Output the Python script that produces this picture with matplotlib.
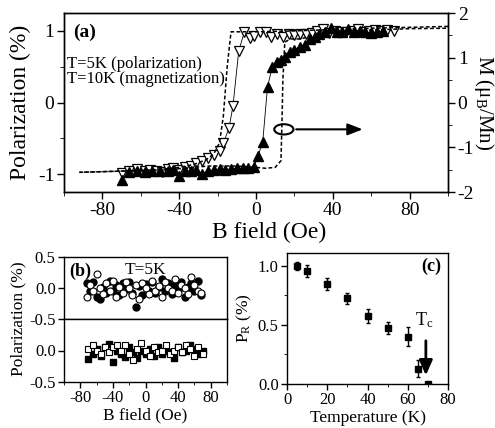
import matplotlib
matplotlib.use("Agg")
import matplotlib.pyplot as plt
from matplotlib.patches import Ellipse
from matplotlib.ticker import MultipleLocator

plt.rcParams['font.family'] = ['Liberation Serif', 'DejaVu Serif']
plt.rcParams['mathtext.fontset'] = 'custom'
plt.rcParams['mathtext.rm'] = 'Liberation Serif'
plt.rcParams['mathtext.it'] = 'Liberation Serif:italic'
plt.rcParams['axes.unicode_minus'] = False
plt.rcParams['axes.linewidth'] = 1.0
plt.rcParams['xtick.major.width'] = 1.0
plt.rcParams['ytick.major.width'] = 1.0

# ---- panel (a): hysteresis ----
pol5_field = [-70, -66, -62, -58, -55, -52, -49, -46, -43, -40, -37, -34, -31, -28,
              -25, -22, -19, -17, -14, -12, -9, -6, -3, -1, 2, 5, 8, 11, 14, 17, 20,
              23, 26, 29, 32, 35, 38, 41, 44, 47, 50, 53, 56, 59, 62, 65, 68, 72]
pol5_val = [-0.98, -0.96, -0.93, -0.95, -0.94, -0.96, -0.97, -0.93, -0.92, -0.94, -0.90,
            -0.88, -0.85, -0.82, -0.78, -0.74, -0.68, -0.57, -0.35, -0.05, 0.72, 0.99,
            0.90, 0.93, 0.99, 0.98, 0.92, 0.95, 0.92, 0.96, 0.94, 0.95, 0.96, 0.97,
            1.00, 1.03, 0.97, 1.00, 0.98, 0.99, 1.00, 1.02, 0.98, 1.00, 1.01, 1.00,
            1.01, 1.00]

pol10_field = [-70, -66, -62, -58, -54, -50, -46, -43, -40, -37, -34, -31, -28, -25,
               -22, -19, -16, -13, -10, -7, -4, -1, 1, 3.5, 6, 8.5, 11, 13, 15, 17.5,
               20, 23, 25.5, 28, 30.5, 33, 36, 39, 42, 45, 48, 51, 54, 57, 60, 63, 66]
pol10_val = [-1.08, -0.97, -0.96, -0.97, -0.95, -0.96, -0.95, -0.94, -1.03, -0.96,
             -0.95, -0.94, -1.00, -0.95, -0.94, -0.93, -0.94, -0.93, -0.92, -0.92,
             -0.91, -0.90, -0.75, -0.55, 0.22, 0.50, 0.57, 0.60, 0.64, 0.71, 0.74,
             0.78, 0.80, 0.88, 0.92, 0.95, 0.98, 1.04, 0.98, 0.99, 1.02, 0.98, 1.00,
             0.99, 0.97, 0.98, 1.00]

mag_down_field = [100, 80, 60, 40, 20, 0, -5, -13, -15, -17, -19, -22, -26, -32, -40,
                  -50, -60, -75, -92]
mag_down_val = [1.70, 1.68, 1.66, 1.63, 1.60, 1.58, 1.58, 1.58, 0.8, -0.3, -0.9, -1.15,
                -1.28, -1.38, -1.45, -1.50, -1.52, -1.54, -1.56]
mag_up_field = [-92, -60, -40, -25, -10, 0, 5, 10, 13, 13.5, 14, 15, 18, 23, 30, 40,
                60, 80, 100]
mag_up_val = [-1.56, -1.52, -1.48, -1.42, -1.42, -1.45, -1.47, -1.45, -1.3, -0.5, 0.5,
              1.35, 1.42, 1.42, 1.50, 1.58, 1.62, 1.65, 1.66]

# ---- panel (b) ----
circ_field = [-72, -68, -64, -60, -56, -52, -48, -44, -40, -36, -32, -28, -24, -20,
              -16, -12, -8, -4, 0, 4, 8, 12, 16, 20, 24, 28, 32, 36, 40, 44, 48, 52,
              56, 60, 64, 68]
circ_filled = [0.08, -0.05, 0.10, -0.15, -0.18, 0.02, -0.08, 0.12, -0.05, 0.05, -0.12,
               0.08, -0.02, 0.10, -0.08, -0.30, 0.03, -0.12, 0.06, -0.05, 0.10, -0.08,
               0.02, 0.15, -0.05, 0.08, -0.10, 0.05, -0.03, 0.10, -0.15, 0.02, 0.08,
               -0.05, 0.12, -0.12]
circ_open = [-0.15, 0.05, -0.05, 0.22, 0.00, -0.10, 0.08, -0.05, 0.12, -0.15, 0.02,
             -0.08, 0.10, 0.00, -0.12, 0.05, -0.18, 0.08, 0.00, -0.10, 0.12, -0.05,
             0.03, -0.15, 0.10, 0.00, -0.05, 0.15, -0.08, 0.05, 0.00, -0.10, 0.18,
             0.05, -0.05, -0.08]

sq_field = [-70, -65, -60, -55, -50, -45, -40, -35, -30, -25, -20, -15, -10, -5, 0,
            5, 10, 15, 20, 25, 30, 35, 40, 45, 50, 55, 60, 65, 70]
sq_filled = [-0.13, -0.05, 0.02, -0.08, 0.05, 0.10, -0.18, 0.00, -0.05, -0.10, 0.05,
             -0.03, -0.12, 0.00, -0.05, 0.02, -0.08, 0.05, -0.05, 0.00, -0.03, -0.12,
             0.05, -0.02, 0.00, 0.08, 0.02, -0.05, 0.00]
sq_open = [0.02, 0.08, 0.00, -0.05, 0.05, -0.02, 0.05, 0.08, 0.00, 0.08, -0.05, -0.15,
           0.02, 0.12, 0.00, -0.08, 0.05, -0.02, 0.00, 0.08, -0.05, 0.00, 0.05, -0.03,
           0.08, 0.02, -0.08, 0.05, -0.05]

# ---- panel (c) ----
temp = [5, 10, 20, 30, 40, 50, 60, 65, 70]
pr = [1.00, 0.955, 0.85, 0.725, 0.575, 0.475, 0.40, 0.13, 0.0]
pr_err = [0.03, 0.05, 0.05, 0.05, 0.06, 0.05, 0.08, 0.07, 0.02]

W, H = 495, 428
fig = plt.figure(figsize=(W / 100, H / 100), dpi=100)

def box(l, t, r, b):
    return [l / W, 1 - b / H, (r - l) / W, (b - t) / H]

# (a)
ax = fig.add_axes(box(64, 13, 448, 192))
ax.plot(pol5_field, pol5_val, '-', color='k', lw=0.6, marker='v', ms=6.5,
        mfc='white', mec='k', mew=0.9)
ax.plot(pol10_field, pol10_val, '-', color='k', lw=0.6, marker='^', ms=6.5,
        mfc='k', mec='k')
ax.set_xlim(-100, 100)
ax.set_ylim(-1.25, 1.25)
ax.set_xticks([-80, -40, 0, 40, 80])
ax.xaxis.set_minor_locator(MultipleLocator(20))
ax.set_yticks([-1, 0, 1])
ax.yaxis.set_minor_locator(MultipleLocator(0.5))
ax.tick_params(labelsize=14, length=5, pad=2)
ax.tick_params(which='minor', length=3)
ax.set_xlabel('B field (Oe)', fontsize=17, labelpad=2)
ax.xaxis.label.set_x(0.535)
ax.set_ylabel('Polarization (%)', fontsize=17, labelpad=5)
ax.text(0.025, 0.866, '(a)', transform=ax.transAxes, fontsize=14, fontweight='bold')
ax.text(0.008, 0.693, 'T=5K (polarization)', transform=ax.transAxes, fontsize=12)
ax.text(0.008, 0.609, 'T=10K (magnetization)', transform=ax.transAxes, fontsize=12)

ax2 = ax.twinx()
ax2.plot(mag_down_field, mag_down_val, color='k', lw=1.1, dashes=(2.5, 1.5))
ax2.plot(mag_up_field, mag_up_val, color='k', lw=1.1, dashes=(2.5, 1.5))
ax2.set_ylim(-2, 2)
ax2.set_yticks([-2, -1, 0, 1, 2])
ax2.yaxis.set_minor_locator(MultipleLocator(0.5))
ax2.tick_params(labelsize=14, length=5, pad=2)
ax2.tick_params(which='minor', length=3)
ax2.set_ylabel(r'M ($\mathrm{\mu_B}$/Mn)', fontsize=15, rotation=-90, labelpad=16)
ax2.add_patch(Ellipse((14.5, -0.6), 10, 0.23, fill=False, lw=1.5, ec='k'))
ax2.annotate('', xy=(57, -0.6), xytext=(19.5, -0.6),
             arrowprops=dict(arrowstyle='-|>,head_length=0.9,head_width=0.35',
                             color='k', lw=1.5))

# (b)
axb1 = fig.add_axes(box(64, 257, 227, 319))
axb2 = fig.add_axes(box(64, 319, 227, 382))
axb1.plot(circ_field, circ_filled, 'o', ms=5, mfc='k', mec='k')
axb1.plot(circ_field, circ_open, 'o', ms=5, mfc='white', mec='k', mew=0.8)
axb2.plot(sq_field, sq_filled, 's', ms=5, mfc='k', mec='k')
axb2.plot(sq_field, sq_open, 's', ms=5, mfc='white', mec='k', mew=0.8)
for a in (axb1, axb2):
    a.set_xlim(-100, 100)
    a.set_ylim(-0.5, 0.5)
    a.set_xticks([-80, -40, 0, 40, 80])
    a.xaxis.set_minor_locator(MultipleLocator(20))
    a.tick_params(labelsize=12, length=4, pad=2)
    a.tick_params(which='minor', length=2.5)
axb1.set_yticks([-0.5, 0.0, 0.5])
axb1.set_yticklabels(['-0.5', '0.0', '0.5'])
axb1.tick_params(axis='x', which='both', bottom=False, labelbottom=False)
axb2.set_yticks([-0.5, 0.0])
axb2.set_yticklabels(['-0.5', '0.0'])
axb2.set_xlabel('B field (Oe)', fontsize=12.5, labelpad=1)
fig.text(18 / W, 1 - 319 / H, 'Polarization (%)', rotation=90, fontsize=12.5,
         ha='center', va='center')
axb1.text(0.03, 0.7, '(b)', transform=axb1.transAxes, fontsize=13, fontweight='bold')
axb1.text(0.5, 0.72, 'T=5K', transform=axb1.transAxes, fontsize=12.5, ha='center')

# (c)
axc = fig.add_axes(box(287, 253, 448, 384))
axc.errorbar(temp, pr, yerr=pr_err, fmt='s', ms=5, color='k', capsize=1.5,
             elinewidth=1.0)
axc.set_xlim(0, 80)
axc.set_ylim(0, 1.11)
axc.set_xticks([0, 20, 40, 60, 80])
axc.xaxis.set_minor_locator(MultipleLocator(10))
axc.set_yticks([0.0, 0.5, 1.0])
axc.set_yticklabels(['0.0', '0.5', '1.0'])
axc.yaxis.set_minor_locator(MultipleLocator(0.25))
axc.tick_params(labelsize=12, length=4, pad=2)
axc.tick_params(which='minor', length=2.5)
axc.set_xlabel('Temperature (K)', fontsize=12.5, labelpad=1)
axc.set_ylabel(r'P$_\mathrm{R}$ (%)', fontsize=12.5, labelpad=3)
axc.text(0.96, 0.86, '(c)', transform=axc.transAxes, fontsize=13, fontweight='bold',
         ha='right')
axc.text(68, 0.5, r'T$_\mathrm{c}$', fontsize=13, ha='center')
axc.annotate('', xy=(69, 0.05), xytext=(69, 0.39),
             arrowprops=dict(arrowstyle='-|>,head_length=0.9,head_width=0.4',
                             color='k', lw=2))

fig.savefig('out.png', dpi=100)
